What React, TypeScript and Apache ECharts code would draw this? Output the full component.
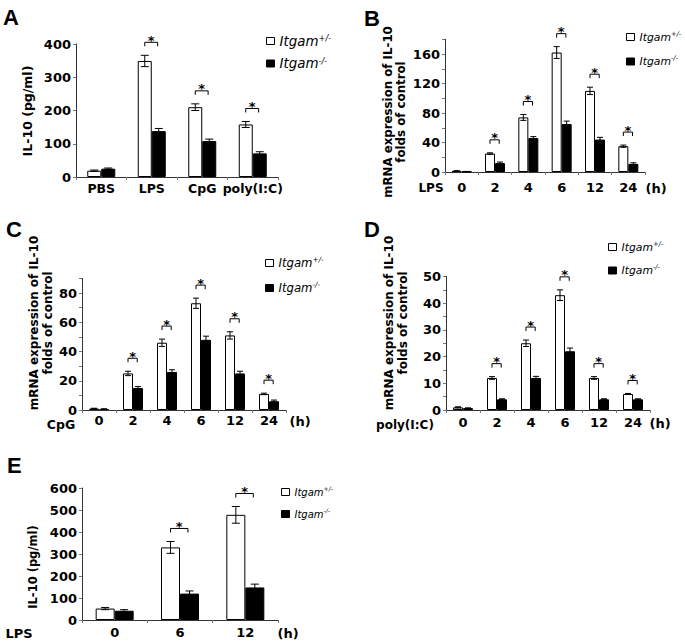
import React, { useEffect, useRef } from 'react';
import * as echarts from 'echarts';

// ---------- data ----------
const seriesNames = ['Itgam+/-', 'Itgam-/-'];

const catsA = ['PBS', 'LPS', 'CpG', 'poly(I:C)'];
const hetA = [19, 349, 210, 158];
const hetErrA = [2, 17, 10, 9];
const koA = [25, 138, 108, 71];
const koErrA = [2, 8, 6, 5];
const sigA = [1, 2, 3];

const timeCats = ['0', '2', '4', '6', '12', '24'];

const hetB = [1.5, 25, 74, 162, 110, 35];
const hetErrB = [0.3, 1, 4, 8, 5, 1.5];
const koB = [0.6, 12, 46, 65, 44, 11];
const koErrB = [0.2, 1.5, 2, 4, 3, 1.5];
const sigB = [1, 2, 3, 4, 5];

const hetC = [1, 25, 46, 73, 51, 11];
const hetErrC = [0.2, 1.5, 2.5, 3.5, 2.5, 0.5];
const koC = [0.7, 15, 26, 48, 25, 6];
const koErrC = [0.1, 1, 1.5, 2.5, 1.5, 0.8];
const sigC = [1, 2, 3, 4, 5];

const hetD = [1, 12, 25, 43, 12, 6];
const hetErrD = [0.2, 0.5, 1.2, 2, 0.5, 0.2];
const koD = [0.7, 4, 12, 22, 4, 4];
const koErrD = [0.1, 0.2, 0.6, 1.2, 0.2, 0.2];
const sigD = [1, 2, 3, 4, 5];

const catsE = ['0', '6', '12'];
const hetE = [52, 330, 478];
const hetErrE = [5, 27, 38];
const koE = [42, 120, 148];
const koErrE = [5, 12, 15];
const sigE = [1, 2];

// ---------- layout ----------
const FONT = 'DejaVu Sans';

type Panel = {
  cats: string[]; het: number[]; hetErr: number[]; ko: number[]; koErr: number[]; sig: number[];
  left: number; top: number; width: number; height: number; max: number; interval: number; labelEvery: number;
  bw: number; cap: number; labelMargin: number; xFont: number; yFont: number;
  legLeft: number; legTop: number; legGap: number; legFont: number;
};

const panels: Panel[] = [
  { cats: catsA, het: hetA, hetErr: hetErrA, ko: koA, koErr: koErrA, sig: sigA,
    left: 76, top: 44, width: 202, height: 133, max: 400, interval: 100, labelEvery: 100,
    bw: 14, cap: 4, labelMargin: 5, xFont: 12.5, yFont: 13,
    legLeft: 266, legTop: 34, legGap: 9, legFont: 13.4 },
  { cats: timeCats, het: hetB, hetErr: hetErrB, ko: koB, koErr: koErrB, sig: sigB,
    left: 445, top: 39.25, width: 200, height: 132.75, max: 180, interval: 20, labelEvery: 40,
    bw: 10, cap: 3, labelMargin: 9, xFont: 13, yFont: 13,
    legLeft: 626, legTop: 30, legGap: 12, legFont: 10.8 },
  { cats: timeCats, het: hetC, hetErr: hetErrC, ko: koC, koErr: koErrC, sig: sigC,
    left: 82, top: 278.4, width: 204, height: 131.6, max: 90, interval: 10, labelEvery: 20,
    bw: 10, cap: 3, labelMargin: 4, xFont: 13, yFont: 13,
    legLeft: 265, legTop: 256, legGap: 12, legFont: 11.7 },
  { cats: timeCats, het: hetD, hetErr: hetErrD, ko: koD, koErr: koErrD, sig: sigD,
    left: 446, top: 276.5, width: 204, height: 133.5, max: 50, interval: 5, labelEvery: 10,
    bw: 10, cap: 3, labelMargin: 6, xFont: 13, yFont: 13,
    legLeft: 608, legTop: 240, legGap: 11, legFont: 10.8 },
  { cats: catsE, het: hetE, hetErr: hetErrE, ko: koE, koErr: koErrE, sig: sigE,
    left: 82, top: 488, width: 196, height: 132, max: 600, interval: 100, labelEvery: 100,
    bw: 19, cap: 4, labelMargin: 6, xFont: 13, yFont: 13,
    legLeft: 281, legTop: 485, legGap: 10, legFont: 10 },
];

function errSeries(idx: number, vals: number[], errs: number[], side: number, bw: number, cap: number) {
  return {
    type: 'custom',
    xAxisIndex: idx,
    yAxisIndex: idx,
    silent: true,
    z: 5,
    data: vals.map((v, i) => [i, v, errs[i]]),
    renderItem: (params: any, api: any) => {
      const c = api.value(0), v = api.value(1), e = api.value(2);
      const top = api.coord([c, v + e]);
      const bot = api.coord([c, Math.max(v - e, 0)]);
      const x = top[0] + side * bw / 2;
      const st = { stroke: '#000', lineWidth: 1 };
      return {
        type: 'group',
        children: [
          { type: 'line', shape: { x1: x, y1: top[1], x2: x, y2: bot[1] }, style: st },
          { type: 'line', shape: { x1: x - cap, y1: top[1], x2: x + cap, y2: top[1] }, style: st },
          { type: 'line', shape: { x1: x - cap, y1: bot[1], x2: x + cap, y2: bot[1] }, style: st },
        ],
      };
    },
  };
}

function sigSeries(idx: number, p: Panel) {
  return {
    type: 'custom',
    xAxisIndex: idx,
    yAxisIndex: idx,
    silent: true,
    z: 6,
    data: p.sig.map((i) => [i, Math.max(p.het[i] + p.hetErr[i], p.ko[i] + p.koErr[i])]),
    renderItem: (params: any, api: any) => {
      const pt = api.coord([api.value(0), api.value(1)]);
      const yb = pt[1] - 9;
      const yt = yb - 4;
      const x1 = pt[0] - p.bw * 0.5;
      const x2 = pt[0] + p.bw * 0.42;
      return {
        type: 'group',
        children: [
          { type: 'polyline', shape: { points: [[x1, yb], [x1, yt], [x2, yt], [x2, yb]] },
            style: { stroke: '#000', fill: null, lineWidth: 1 } },
          { type: 'text', x: (x1 + x2) / 2, y: yt - 2,
            style: { text: '*', fill: '#000', font: `bold 13px "${FONT}"`, align: 'center', verticalAlign: 'middle' } },
        ],
      };
    },
  };
}

function txt(text: string, x: number, y: number, size: number, opts: any = {}) {
  return {
    type: 'text', x, y, rotation: opts.rot || 0,
    style: {
      text, fill: '#000',
      font: `${opts.weight || 'bold'} ${size}px "${opts.family || FONT}"`,
      textAlign: opts.align || 'center', textVerticalAlign: opts.valign || 'middle',
    },
  };
}

const R = Math.PI / 2;

export default function App() {
  const ref = useRef<HTMLDivElement>(null);
  useEffect(() => {
    if (!ref.current) return;
    const chart = echarts.init(ref.current, null, { renderer: 'svg' });
    const grid: any[] = [], xAxis: any[] = [], yAxis: any[] = [], series: any[] = [], legend: any[] = [];
    panels.forEach((p, idx) => {
      grid.push({ left: p.left, top: p.top, width: p.width, height: p.height, containLabel: false });
      xAxis.push({
        type: 'category', gridIndex: idx, data: p.cats,
        axisLine: { show: true, lineStyle: { color: '#333', width: 1 } },
        axisTick: { show: true, length: 3, lineStyle: { color: '#777' } },
        axisLabel: { interval: 0, color: '#000', fontFamily: FONT, fontWeight: 'bold', fontSize: p.xFont, margin: p.labelMargin },
      });
      yAxis.push({
        type: 'value', gridIndex: idx, min: 0, max: p.max, interval: p.interval,
        axisLine: { show: true, lineStyle: { color: '#333', width: 1 } },
        axisTick: { show: true, length: 3, lineStyle: { color: '#777' } },
        splitLine: { show: false },
        axisLabel: {
          color: '#000', fontFamily: FONT, fontWeight: 'bold', fontSize: p.yFont, margin: 5,
          formatter: (v: number) => (v % p.labelEvery === 0 ? String(v) : ''),
        },
      });
      series.push({
        type: 'bar', name: seriesNames[0], xAxisIndex: idx, yAxisIndex: idx, data: p.het,
        barWidth: p.bw, barGap: '0%',
        itemStyle: { color: '#fff', borderColor: '#000', borderWidth: 1 },
      });
      series.push({
        type: 'bar', name: seriesNames[1], xAxisIndex: idx, yAxisIndex: idx, data: p.ko,
        barWidth: p.bw, barGap: '0%',
        itemStyle: { color: '#000', borderColor: '#000', borderWidth: 1 },
      });
      series.push(errSeries(idx, p.het, p.hetErr, -1, p.bw, p.cap));
      series.push(errSeries(idx, p.ko, p.koErr, 1, p.bw, p.cap));
      series.push(sigSeries(idx, p));
      legend.push({
        orient: 'vertical', left: p.legLeft, top: p.legTop, itemWidth: 8, itemHeight: 7,
        itemGap: p.legGap, selectedMode: false, padding: 0,
        data: [
          { name: seriesNames[0], icon: 'rect', itemStyle: { color: '#fff', borderColor: '#000', borderWidth: 1 } },
          { name: seriesNames[1], icon: 'rect', itemStyle: { color: '#000', borderColor: '#000', borderWidth: 1 } },
        ],
        formatter: (n: string) => (n === seriesNames[0] ? '{i|Itgam}{s|+/-}' : '{i|Itgam}{s|-/-}'),
        textStyle: {
          rich: {
            i: { fontStyle: 'italic', fontFamily: FONT, fontSize: p.legFont, lineHeight: 14, color: '#000' },
            s: { fontStyle: 'italic', fontFamily: FONT, fontSize: p.legFont * 0.62, verticalAlign: 'top', lineHeight: 8, color: '#000' },
          },
        },
      });
    });

    const graphic = [
      txt('A', 3, 6, 22, { align: 'left', valign: 'top', family: 'Liberation Sans' }),
      txt('B', 364, 7, 22, { align: 'left', valign: 'top', family: 'Liberation Sans' }),
      txt('C', 6, 218, 22, { align: 'left', valign: 'top', family: 'Liberation Sans' }),
      txt('D', 364, 218, 22, { align: 'left', valign: 'top', family: 'Liberation Sans' }),
      txt('E', 7, 454, 22, { align: 'left', valign: 'top', family: 'Liberation Sans' }),
      txt('IL-10 (pg/ml)', 27.5, 111, 12.5, { rot: R }),
      txt('mRNA expression of IL-10', 387.5, 112, 11.8, { rot: R }),
      txt('folds of control', 401, 112, 11.8, { rot: R }),
      txt('mRNA expression of IL-10', 34, 323, 12, { rot: R }),
      txt('folds of control', 47.5, 323, 12, { rot: R }),
      txt('mRNA expression of IL-10', 389, 323, 12, { rot: R }),
      txt('folds of control', 402.5, 323, 12, { rot: R }),
      txt('IL-10 (pg/ml)', 33, 567, 11.5, { rot: R }),
      txt('LPS', 431, 188, 12), txt('(h)', 656, 188, 13),
      txt('CpG', 61, 424, 12.5), txt('(h)', 300, 421, 13),
      txt('poly(I:C)', 405, 425, 12), txt('(h)', 660, 423, 13),
      txt('LPS', 19, 633, 13), txt('(h)', 288, 633, 13),
    ];

    chart.setOption({
      animation: false,
      textStyle: { fontFamily: FONT },
      grid, xAxis, yAxis, series, legend, graphic,
    });
    return () => chart.dispose();
  }, []);
  return (
    <div
      ref={ref}
      style={{ position: 'fixed', left: 0, top: 0, width: 685, height: 642, background: '#fff' }}
    />
  );
}
